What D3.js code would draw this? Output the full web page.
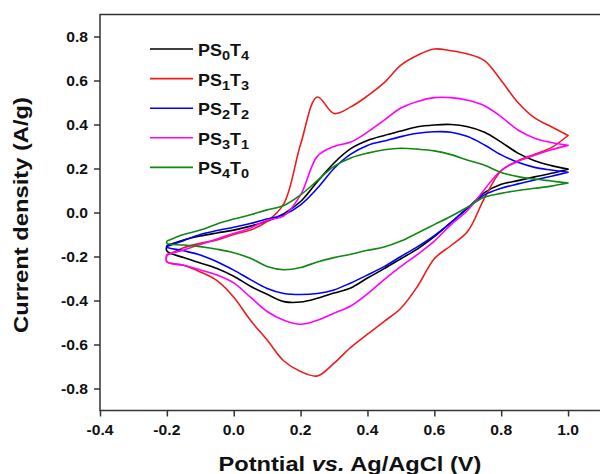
<!DOCTYPE html>
<html lang="en">
  <head>
    <meta charset="utf-8">
    <title>CV curves</title>
    <style>
      body { margin: 0; background: #fff; }
      svg { display: block; }
      text { font-family: "Liberation Sans", Arial, Helvetica, sans-serif; font-weight: bold; fill: #111; }
    </style>
  </head>
  <body>
    <svg width="600" height="474"></svg>
    <script src="https://d3js.org/d3.v7.min.js"></script>
    <script>
      // potential grid (V vs Ag/AgCl), shared by every branch
      const potential = [-0.2, -0.15, -0.1, -0.05, 0, 0.05, 0.1, 0.15, 0.2, 0.25, 0.3, 0.35, 0.4,
                         0.45, 0.5, 0.55, 0.6, 0.65, 0.7, 0.75, 0.8, 0.85, 0.9, 0.95, 1.0];

      // anodic (upper) and cathodic (lower) branches, current density in A/g, listed on the grid above
      const ps0t4Up = [-0.15, -0.125, -0.107, -0.093, -0.08, -0.062, -0.04, -0.005, 0.05, 0.14, 0.225, 0.29, 0.327,
                       0.35, 0.37, 0.39, 0.398, 0.4, 0.39, 0.365, 0.32, 0.27, 0.235, 0.213, 0.197];
      const ps0t4Down = [-0.175, -0.205, -0.23, -0.255, -0.29, -0.335, -0.372, -0.405, -0.407, -0.39, -0.366, -0.343, -0.298,
                         -0.255, -0.21, -0.165, -0.11, -0.045, 0.02, 0.09, 0.128, 0.145, 0.162, 0.178, 0.197];

      const ps1t3Up = [-0.195, -0.16, -0.14, -0.125, -0.1, -0.08, -0.04, 0.04, 0.31, 0.525, 0.45, 0.48, 0.53,
                       0.59, 0.67, 0.715, 0.743, 0.735, 0.72, 0.69, 0.6, 0.5, 0.43, 0.39, 0.35];
      const ps1t3Down = [-0.224, -0.24, -0.27, -0.31, -0.385, -0.49, -0.58, -0.675, -0.723, -0.743, -0.685, -0.613, -0.553,
                         -0.495, -0.435, -0.335, -0.21, -0.15, -0.085, 0.065, 0.19, 0.235, 0.265, 0.295, 0.35];

      const ps2t2Up = [-0.155, -0.128, -0.1, -0.082, -0.067, -0.05, -0.03, -0.01, 0.035, 0.11, 0.2, 0.265, 0.305,
                       0.325, 0.345, 0.36, 0.367, 0.365, 0.345, 0.307, 0.262, 0.228, 0.205, 0.193, 0.183];
      const ps2t2Down = [-0.158, -0.174, -0.193, -0.224, -0.262, -0.305, -0.345, -0.368, -0.373, -0.368, -0.352, -0.32, -0.284,
                         -0.246, -0.2, -0.155, -0.105, -0.045, 0.022, 0.08, 0.11, 0.13, 0.148, 0.165, 0.183];

      const ps3t1Up = [-0.19, -0.17, -0.145, -0.12, -0.095, -0.07, -0.035, -0.015, 0.08, 0.255, 0.3, 0.32, 0.365,
                       0.42, 0.475, 0.505, 0.522, 0.522, 0.51, 0.485, 0.435, 0.375, 0.338, 0.318, 0.305];
      const ps3t1Down = [-0.224, -0.24, -0.261, -0.284, -0.32, -0.385, -0.45, -0.49, -0.508, -0.49, -0.458, -0.425, -0.37,
                         -0.305, -0.245, -0.19, -0.13, -0.055, 0.01, 0.105, 0.192, 0.232, 0.26, 0.285, 0.305];

      const ps4t0Up = [-0.13, -0.1, -0.08, -0.052, -0.03, -0.01, 0.012, 0.032, 0.08, 0.145, 0.21, 0.248, 0.27,
                       0.285, 0.292, 0.288, 0.28, 0.263, 0.238, 0.215, 0.182, 0.163, 0.152, 0.143, 0.134];
      const ps4t0Down = [-0.14, -0.148, -0.155, -0.167, -0.183, -0.208, -0.245, -0.26, -0.25, -0.225, -0.205, -0.19, -0.172,
                         -0.157, -0.13, -0.093, -0.055, -0.017, 0.025, 0.07, 0.087, 0.1, 0.11, 0.12, 0.134];

      const seriesNames = ["PS0T4", "PS1T3", "PS2T2", "PS3T1", "PS4T0"];
      const seriesSubs = [["0", "4"], ["1", "3"], ["2", "2"], ["3", "1"], ["4", "0"]];
      const seriesColors = ["#000000", "#ee1c1c", "#0000ff", "#ff00ff", "#118811"];
      const upBranches = [ps0t4Up, ps1t3Up, ps2t2Up, ps3t1Up, ps4t0Up];
      const downBranches = [ps0t4Down, ps1t3Down, ps2t2Down, ps3t1Down, ps4t0Down];

      const xTicks = [-0.4, -0.2, 0.0, 0.2, 0.4, 0.6, 0.8, 1.0];
      const yTicks = [-0.8, -0.6, -0.4, -0.2, 0.0, 0.2, 0.4, 0.6, 0.8];

      const svg = d3.select("svg");
      const stretch = 1.12; // glyphs in the source are a bit wide
      const fmt = d => d.toFixed(1); // plain hyphen minus, like the source

      const x = d3.scaleLinear().domain([-0.4, 1.1]).range([100, 601.5]);
      const y = d3.scaleLinear().domain([-0.9, 0.9]).range([410.5, 14.5]);

      // CV loops: anodic sweep forward, cathodic sweep back
      const line = d3.line()
        .x(d => x(d[0]))
        .y(d => y(d[1]))
        .curve(d3.curveCatmullRom.alpha(0.5));

      const loops = seriesNames.map((name, i) => {
        const up = potential.map((p, j) => [p, upBranches[i][j]]);
        const down = potential.map((p, j) => [p, downBranches[i][j]]).reverse();
        const pts = up.concat(down);
        pts.push(up[0]);
        return { name: name, color: seriesColors[i], pts: pts };
      });

      svg.append("g")
        .selectAll("path")
        .data(loops)
        .join("path")
          .attr("fill", "none")
          .attr("stroke", d => d.color)
          .attr("stroke-width", 1.6)
          .attr("stroke-linejoin", "round")
          .attr("d", d => line(d.pts));

      // frame and axes
      const axisColor = "#333";
      svg.append("rect")
        .attr("x", x.range()[0]).attr("y", y.range()[1])
        .attr("width", x.range()[1] - x.range()[0])
        .attr("height", y.range()[0] - y.range()[1])
        .attr("fill", "none")
        .attr("stroke", axisColor)
        .attr("stroke-width", 1.5);

      const xMinor = d3.range(-0.3, 1.1, 0.2);
      const yMinor = d3.range(-0.7, 0.8, 0.2);

      const xAxis = svg.append("g").attr("transform", `translate(0,${y.range()[0]})`);
      xAxis.call(d3.axisBottom(x).tickValues(xMinor).tickSize(4).tickFormat(""));
      xAxis.call(d3.axisBottom(x).tickValues(xTicks).tickSize(6).tickFormat(""));
      xAxis.selectAll(".domain").remove();
      xAxis.selectAll("line").attr("stroke", axisColor).attr("stroke-width", 1.5);

      const yAxis = svg.append("g").attr("transform", `translate(${x.range()[0]},0)`);
      yAxis.call(d3.axisLeft(y).tickValues(yMinor).tickSize(4).tickFormat(""));
      yAxis.call(d3.axisLeft(y).tickValues(yTicks).tickSize(6).tickFormat(""));
      yAxis.selectAll(".domain").remove();
      yAxis.selectAll("line").attr("stroke", axisColor).attr("stroke-width", 1.5);

      svg.append("g")
        .selectAll("text")
        .data(xTicks)
        .join("text")
          .attr("transform", d => `translate(${x(d)},435) scale(${stretch},1)`)
          .attr("text-anchor", "middle")
          .attr("font-size", 14)
          .text(fmt);

      svg.append("g")
        .selectAll("text")
        .data(yTicks)
        .join("text")
          .attr("transform", d => `translate(88,${y(d) + 5}) scale(${stretch},1)`)
          .attr("text-anchor", "end")
          .attr("font-size", 14)
          .text(fmt);

      // axis titles
      svg.append("text")
        .attr("transform", "translate(28,215) rotate(-90)")
        .attr("text-anchor", "middle")
        .attr("font-size", 21)
        .attr("textLength", 236)
        .attr("lengthAdjust", "spacingAndGlyphs")
        .text("Current density (A/g)");

      const xt = svg.append("text")
        .attr("x", 350).attr("y", 471)
        .attr("text-anchor", "middle")
        .attr("font-size", 21)
        .attr("textLength", 263)
        .attr("lengthAdjust", "spacingAndGlyphs");
      xt.append("tspan").text("Potntial ");
      xt.append("tspan").attr("font-style", "italic").text("vs.");
      xt.append("tspan").text(" Ag/AgCl (V)");

      // legend
      const legend = svg.append("g")
        .selectAll("g")
        .data(loops)
        .join("g")
          .attr("transform", (d, i) => `translate(0,${49 + i * 29.6})`);

      legend.append("line")
        .attr("x1", 150).attr("x2", 193)
        .attr("stroke", d => d.color)
        .attr("stroke-width", 1.6);

      legend.append("text")
        .attr("transform", `translate(198,7) scale(${stretch},1)`)
        .attr("font-size", 16)
        .each(function (d, i) {
          const t = d3.select(this);
          t.append("tspan").text("PS");
          t.append("tspan").attr("font-size", 13).attr("dy", 4).text(seriesSubs[i][0]);
          t.append("tspan").attr("dy", -4).text("T");
          t.append("tspan").attr("font-size", 13).attr("dy", 4).text(seriesSubs[i][1]);
        });
    </script>
  </body>
</html>
